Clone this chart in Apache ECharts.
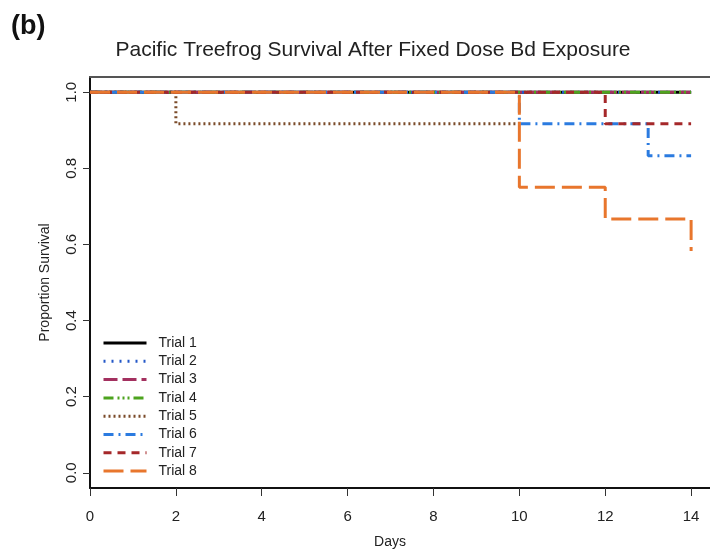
<!DOCTYPE html>
<html>
<head>
<meta charset="utf-8">
<script src="https://cdn.jsdelivr.net/npm/echarts@6/dist/echarts.min.js"></script>
<style>
  html, body { margin: 0; padding: 0; background: #fff; }
  #chart { width: 710px; height: 554px; }
</style>
</head>
<body>
<div id="chart"></div>
<script>
// ---- data ----
const xTicks = [0, 2, 4, 6, 8, 10, 12, 14];
const yTicks = [0, 0.2, 0.4, 0.6, 0.8, 1.0];
const trialNames = ['Trial 1', 'Trial 2', 'Trial 3', 'Trial 4', 'Trial 5', 'Trial 6', 'Trial 7', 'Trial 8'];

const trial1Days = [0, 14];          const trial1Surv = [1, 1];
const trial2Days = [0, 14];          const trial2Surv = [1, 1];
const trial3Days = [0, 14];          const trial3Surv = [1, 1];
const trial4Days = [0, 14];          const trial4Surv = [1, 1];
const trial5Days = [0, 2, 10];       const trial5Surv = [1, 0.917, 0.917];
const trial6Days = [0, 10, 13, 14];  const trial6Surv = [1, 0.917, 0.833, 0.833];
const trial7Days = [0, 12, 14];      const trial7Surv = [1, 0.917, 0.917];
const trial8Days = [0, 10, 12, 14];  const trial8Surv = [1, 0.75, 0.667, 0.583];

const allDays = [trial1Days, trial2Days, trial3Days, trial4Days, trial5Days, trial6Days, trial7Days, trial8Days];
const allSurv = [trial1Surv, trial2Surv, trial3Surv, trial4Surv, trial5Surv, trial6Surv, trial7Surv, trial8Surv];

// ---- styles ----
const colors = ['#000000', '#2458c8', '#a3305f', '#4da31e', '#7b4b2a', '#2b7be0', '#a5282a', '#e8762d'];
const dashes = [
  'solid',
  [2, 6],
  [14, 5],
  [10, 4, 2, 3, 2, 3, 2, 4],
  [2, 3],
  [10, 5, 2, 5],
  [8, 6],
  [20, 7]
];

const series = trialNames.map((name, i) => ({
  name: name,
  type: 'line',
  step: 'end',
  symbol: 'none',
  showSymbol: false,
  animation: false,
  color: colors[i],
  itemStyle: { color: colors[i] },
  lineStyle: { color: colors[i], width: 3, type: dashes[i] },
  data: allDays[i].map((d, j) => [d, allSurv[i][j]])
}));

const chart = echarts.init(document.getElementById('chart'), null, { renderer: 'canvas' });
const font = 'Liberation Sans, Arial, Helvetica, sans-serif';
const xMin = 0, xMax = 14.44;

chart.setOption({
  animation: false,
  backgroundColor: '#ffffff',
  textStyle: { fontFamily: font },
  title: [
    { text: '(b)', left: 6, top: 8, textStyle: { fontFamily: font, fontSize: 27, fontWeight: 'bold', color: '#111' } },
    { text: 'Pacific Treefrog Survival After Fixed Dose Bd Exposure', left: 368, textAlign: 'center', top: 35,
      textStyle: { fontFamily: font, fontSize: 21, fontWeight: 'normal', color: '#222' } }
  ],
  grid: { left: 90, right: 0, top: 77, bottom: 65, show: false },
  legend: {
    orient: 'vertical',
    left: 102,
    top: 336,
    padding: 0,
    itemWidth: 43,
    itemHeight: 14,
    itemGap: 4.3,
    data: trialNames,
    itemStyle: { opacity: 0 },
    lineStyle: { width: 3 },
    textStyle: { fontFamily: font, fontSize: 14, color: '#222', padding: [0, 0, 0, 7] }
  },
  xAxis: [{
    type: 'value',
    position: 'bottom',
    min: xMin,
    max: xMax,
    interval: 2,
    name: 'Days',
    nameLocation: 'middle',
    nameGap: 47,
    nameTextStyle: { fontFamily: font, fontSize: 14, color: '#222', padding: [0, 20, 0, 0] },
    axisLine: { show: true, onZero: false, lineStyle: { color: '#111', width: 2 } },
    axisTick: { show: true, length: 8, lineStyle: { color: '#333', width: 1 }, customValues: xTicks },
    axisLabel: { fontFamily: font, fontSize: 15, color: '#222', margin: 21, customValues: xTicks, formatter: v => String(v) },
    splitLine: { show: false }
  }, {
    type: 'value',
    position: 'top',
    min: xMin,
    max: xMax,
    axisLine: { show: true, onZero: false, lineStyle: { color: '#555', width: 2 } },
    axisTick: { show: false },
    axisLabel: { show: false },
    splitLine: { show: false }
  }],
  yAxis: {
    type: 'value',
    min: -0.04,
    max: 1.04,
    interval: 0.2,
    name: 'Proportion Survival',
    nameLocation: 'middle',
    nameGap: 38,
    nameTextStyle: { fontFamily: font, fontSize: 14, color: '#222' },
    axisLine: { show: true, onZero: false, lineStyle: { color: '#111', width: 2 } },
    axisTick: { show: true, length: 7, lineStyle: { color: '#333', width: 1 }, customValues: yTicks },
    axisLabel: { fontFamily: font, fontSize: 15, color: '#222', margin: 11, rotate: 90, customValues: yTicks, formatter: v => v.toFixed(1) },
    splitLine: { show: false }
  },
  series: series
});
</script>
</body>
</html>
